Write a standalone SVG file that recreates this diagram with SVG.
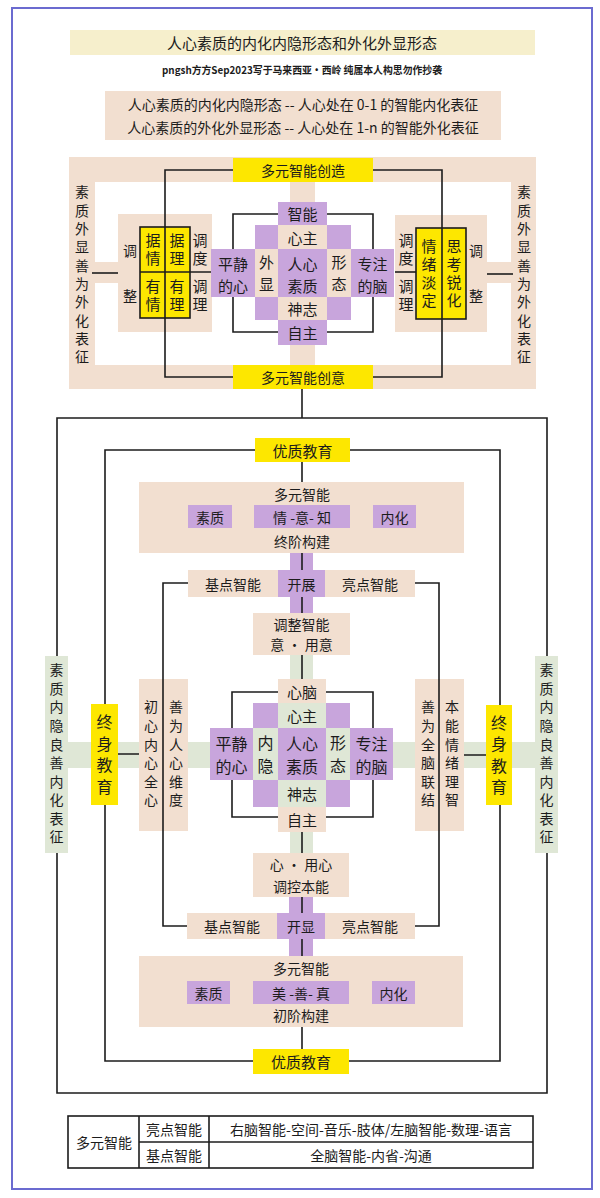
<svg xmlns="http://www.w3.org/2000/svg" width="600" height="1198" viewBox="0 0 600 1198">
<style>
.t{font-family:"Noto Sans CJK SC","Noto Sans",sans-serif;fill:#1c1c1c;text-anchor:middle;dominant-baseline:central}
.v{writing-mode:vertical-rl;text-orientation:upright}
.s10{font-size:10.5px}.s13{font-size:13px}.s14{font-size:14px}.s15{font-size:15px}.s16{font-size:16px}
.pe{fill:#f2dfd0}.pu{fill:#c8a5dc}.ye{fill:#fde700}.gr{fill:#dfe7d6}
.ln{fill:none;stroke:#1c1c1c;stroke-width:1.6}
</style>
<rect width="600" height="1198" fill="#ffffff"/>
<rect x="12" y="8" width="580" height="1181" fill="none" stroke="#6b6bd0" stroke-width="2"/>

<g id="header">
<rect x="70" y="30" width="465" height="25" fill="#f6efcc"/>
<text class="t s15" x="302" y="42.5">人心素质的内化内隐形态和外化外显形态</text>
<text class="t s10" x="302" y="69" font-weight="bold" textLength="280" lengthAdjust="spacingAndGlyphs">pngsh方方Sep2023写于马来西亚·西岭 纯属本人构思勿作抄袭</text>
<rect x="105" y="91" width="396" height="49" class="pe"/>
<text class="t s14" x="303" y="104">人心素质的内化内隐形态 -- 人心处在 0-1 的智能内化表征</text>
<text class="t s14" x="303" y="127">人心素质的外化外显形态 -- 人心处在 1-n 的智能外化表征</text>
</g>

<g id="upper-frame">
<rect x="69" y="157" width="467" height="232" class="pe"/>
<rect x="95" y="182" width="416" height="183" fill="#ffffff"/>
<rect x="290" y="182" width="25" height="183" class="pe"/>
<rect x="95" y="262" width="23" height="21" class="pe"/>
<rect x="487" y="262" width="24" height="21" class="pe"/>
</g>

<g id="upper-left-label">
<text class="t s14 v" x="82" y="276.7" letter-spacing="4.33">素质外显善为外化表征</text>
</g>
<g id="upper-right-label">
<text class="t s14 v" x="524" y="276.7" letter-spacing="4.33">素质外显善为外化表征</text>
</g>

<g id="create-top">
<rect x="233" y="158" width="140" height="24" class="ye"/>
<text class="t s14" x="303" y="170">多元智能创造</text>
</g>
<g id="create-bottom">
<rect x="233" y="365" width="140" height="24" class="ye"/>
<text class="t s14" x="303" y="377">多元智能创意</text>
</g>

<g id="upper-left-adjust">
<rect x="118" y="214" width="94" height="118" class="pe"/>
<text class="t s14" x="130" y="250">调</text>
<text class="t s14" x="130" y="295">整</text>
<rect x="140" y="227" width="50" height="91" class="ye" stroke="#1c1c1c" stroke-width="1.6"/>
<line class="ln" x1="140" y1="272" x2="212" y2="272"/>
<text class="t s15 v" x="153" y="250.5" letter-spacing="3">据情</text>
<text class="t s15 v" x="153" y="296.5" letter-spacing="3">有情</text>
<text class="t s15 v" x="177" y="250.5" letter-spacing="3">据理</text>
<text class="t s15 v" x="177" y="296.5" letter-spacing="3">有理</text>
<text class="t s15 v" x="200" y="250.5" letter-spacing="3">调度</text>
<text class="t s15 v" x="200" y="296.5" letter-spacing="3">调理</text>
</g>

<g id="upper-right-adjust">
<rect x="395" y="215" width="92" height="117" class="pe"/>
<text class="t s14" x="476" y="250">调</text>
<text class="t s14" x="476" y="295">整</text>
<rect x="416" y="228" width="50" height="91" class="ye" stroke="#1c1c1c" stroke-width="1.6"/>
<line class="ln" x1="395" y1="272" x2="416" y2="272"/>
<text class="t s15 v" x="406" y="250.5" letter-spacing="3">调度</text>
<text class="t s15 v" x="406" y="296.5" letter-spacing="3">调理</text>
<text class="t s15 v" x="429" y="275" letter-spacing="3">情绪淡定</text>
<text class="t s15 v" x="454" y="275" letter-spacing="3">思考锐化</text>
</g>

<g id="upper-core">
<rect x="278" y="202" width="49" height="23" class="pu"/>
<rect x="255" y="225" width="23" height="24" class="pu"/>
<rect x="278" y="225" width="49" height="24" class="pe"/>
<rect x="327" y="225" width="24" height="24" class="pu"/>
<rect x="211" y="249" width="44" height="48" class="pu"/>
<rect x="255" y="249" width="23" height="48" class="pe"/>
<rect x="278" y="249" width="49" height="48" class="pu"/>
<rect x="327" y="249" width="24" height="48" class="pe"/>
<rect x="351" y="249" width="43" height="48" class="pu"/>
<rect x="255" y="297" width="23" height="23" class="pu"/>
<rect x="278" y="297" width="49" height="23" class="pe"/>
<rect x="327" y="297" width="24" height="23" class="pu"/>
<rect x="278" y="320" width="49" height="25" class="pu"/>
<text class="t s15" x="302.5" y="213.5">智能</text>
<text class="t s15" x="302.5" y="237">心主</text>
<text class="t s15"><tspan x="233" y="262.5">平静</tspan><tspan x="233" y="284.5">的心</tspan></text>
<text class="t s15 v" x="266.5" y="276.5" letter-spacing="7">外显</text>
<text class="t s15"><tspan x="302.5" y="262.5">人心</tspan><tspan x="302.5" y="284.5">素质</tspan></text>
<text class="t s15 v" x="339" y="276.5" letter-spacing="7">形态</text>
<text class="t s15"><tspan x="372.5" y="262.5">专注</tspan><tspan x="372.5" y="284.5">的脑</tspan></text>
<text class="t s15" x="302.5" y="308.5">神志</text>
<text class="t s15" x="302.5" y="332.5">自主</text>
</g>

<g id="lower-strips">
<rect x="290" y="553" width="23" height="60" class="pu"/>
<rect x="290" y="655" width="23" height="198" class="gr"/>
<rect x="68" y="742" width="467" height="26" class="gr"/>
<rect x="289" y="897" width="24" height="59" class="pu"/>
</g>

<g id="quality-top">
<rect x="255" y="438" width="95" height="24" class="ye"/>
<text class="t s15" x="302.5" y="450">优质教育</text>
</g>

<g id="final-build">
<rect x="139" y="482" width="325" height="71" class="pe"/>
<text class="t s14" x="302" y="494">多元智能</text>
<text class="t s14" x="302" y="541">终阶构建</text>
<rect x="188" y="505" width="44" height="23" class="pu"/>
<text class="t s14" x="210" y="516.5">素质</text>
<rect x="254" y="505" width="96" height="23" class="pu"/>
<text class="t s14" x="302" y="516.5">情 -意- 知</text>
<rect x="373" y="505" width="43" height="23" class="pu"/>
<text class="t s14" x="394.5" y="516.5">内化</text>
</g>

<g id="unfold-row">
<rect x="188" y="570" width="90" height="27" class="pe"/>
<text class="t s14" x="233" y="583.5">基点智能</text>
<rect x="278" y="570" width="47" height="27" class="pu"/>
<text class="t s14" x="301.5" y="583.5">开展</text>
<rect x="325" y="570" width="90" height="27" class="pe"/>
<text class="t s14" x="370" y="583.5">亮点智能</text>
</g>

<g id="adjust-intel">
<rect x="253" y="613" width="97" height="42" class="pe"/>
<text class="t s14" x="301.5" y="624">调整智能</text>
<text class="t s14" x="301.5" y="644">意 · 用意</text>
</g>

<g id="lower-core">
<rect x="278" y="679" width="48" height="24" class="pe"/>
<rect x="253" y="703" width="25" height="25" class="pu"/>
<rect x="278" y="703" width="48" height="25" class="gr"/>
<rect x="326" y="703" width="24" height="25" class="pu"/>
<rect x="210" y="728" width="43" height="52" class="pu"/>
<rect x="253" y="728" width="25" height="52" class="gr"/>
<rect x="278" y="728" width="48" height="52" class="pu"/>
<rect x="326" y="728" width="24" height="52" class="gr"/>
<rect x="350" y="728" width="43" height="52" class="pu"/>
<rect x="253" y="780" width="25" height="27" class="pu"/>
<rect x="278" y="780" width="48" height="27" class="gr"/>
<rect x="326" y="780" width="24" height="27" class="pu"/>
<rect x="278" y="807" width="48" height="25" class="pe"/>
<text class="t s15" x="302" y="691">心脑</text>
<text class="t s15" x="302" y="715.5">心主</text>
<text class="t s16"><tspan x="231.5" y="742.5">平静</tspan><tspan x="231.5" y="766">的心</tspan></text>
<text class="t s16 v" x="265.5" y="758" letter-spacing="7.5">内隐</text>
<text class="t s16"><tspan x="302" y="742.5">人心</tspan><tspan x="302" y="766">素质</tspan></text>
<text class="t s16 v" x="338" y="758" letter-spacing="7.5">形态</text>
<text class="t s16"><tspan x="371.5" y="742.5">专注</tspan><tspan x="371.5" y="766">的脑</tspan></text>
<text class="t s15" x="302" y="793.5">神志</text>
<text class="t s15" x="302" y="819.5">自主</text>
</g>

<g id="left-inner-label">
<rect x="139" y="679" width="49" height="152" class="pe"/>
<text class="t s14 v" x="151" y="755.8" letter-spacing="4.6">初心内心全心</text>
<text class="t s14 v" x="176" y="755.8" letter-spacing="4.6">善为人心维度</text>
</g>
<g id="right-inner-label">
<rect x="415" y="679" width="49" height="152" class="pe"/>
<text class="t s14 v" x="428" y="755.8" letter-spacing="4.6">善为全脑联结</text>
<text class="t s14 v" x="452" y="755.8" letter-spacing="4.6">本能情绪理智</text>
</g>

<g id="lifelong-left">
<rect x="91" y="704" width="27" height="101" class="ye"/>
<text class="t s16 v" x="104.5" y="757" letter-spacing="5.5">终身教育</text>
</g>
<g id="lifelong-right">
<rect x="486" y="705" width="26" height="100" class="ye"/>
<text class="t s16 v" x="499" y="757.5" letter-spacing="5.5">终身教育</text>
</g>

<g id="lower-left-label">
<rect x="45" y="656" width="23" height="197" class="gr"/>
<text class="t s14 v" x="56.5" y="755.8" letter-spacing="4.56">素质内隐良善内化表征</text>
</g>
<g id="lower-right-label">
<rect x="535" y="656" width="23" height="197" class="gr"/>
<text class="t s14 v" x="546.5" y="755.8" letter-spacing="4.56">素质内隐良善内化表征</text>
</g>

<g id="use-heart">
<rect x="253" y="853" width="96" height="44" class="pe"/>
<text class="t s14" x="301" y="864">心 · 用心</text>
<text class="t s14" x="301" y="886">调控本能</text>
</g>

<g id="reveal-row">
<rect x="187" y="913" width="90" height="26" class="pe"/>
<text class="t s14" x="232" y="926">基点智能</text>
<rect x="277" y="913" width="48" height="26" class="pu"/>
<text class="t s14" x="301" y="926">开显</text>
<rect x="325" y="913" width="90" height="26" class="pe"/>
<text class="t s14" x="370" y="926">亮点智能</text>
</g>

<g id="initial-build">
<rect x="139" y="956" width="324" height="71" class="pe"/>
<text class="t s14" x="301" y="968">多元智能</text>
<text class="t s14" x="301" y="1015">初阶构建</text>
<rect x="187" y="981" width="43" height="23" class="pu"/>
<text class="t s14" x="208.5" y="992.5">素质</text>
<rect x="253" y="981" width="96" height="23" class="pu"/>
<text class="t s14" x="301" y="992.5">美 -善- 真</text>
<rect x="372" y="981" width="43" height="23" class="pu"/>
<text class="t s14" x="393.5" y="992.5">内化</text>
</g>

<g id="quality-bottom">
<rect x="253" y="1049" width="96" height="25" class="ye"/>
<text class="t s15" x="301" y="1061.5">优质教育</text>
</g>

<g id="connectors" class="ln" stroke-width="2">
<path d="M233,170 H165 V377 H233"/>
<path d="M373,170 H442 V377 H373"/>
<path d="M278,214 H233 V249 M233,297 V332 H278"/>
<path d="M327,214 H373 V249 M373,297 V332 H327"/>
<path d="M92,273 H118"/>
<path d="M487,274 H513"/>
<path d="M302,389 V418"/>
<path d="M57,656 V418 H547 V656 M547,853 V1093 H57 V853"/>
<path d="M255,450 H105 V704 M105,805 V1061 H253 M349,1061 H500 V805 M500,705 V450 H350"/>
<path d="M188,583 H163 V926 H187 M415,583 H439 V926 H415"/>
<path d="M118,754 H139 M464,755 H486"/>
<path d="M278,692 H232 V728 M232,780 V817 H278"/>
<path d="M326,692 H373 V728 M373,780 V817 H326"/>
<path d="M302,462 V482 M302,553 V570 M302,597 V613 M302,655 V679 M302,832 V853 M302,897 V913 M302,939 V956 M302,1027 V1049"/>
</g>

<g id="legend-table">
<rect x="68" y="1116" width="465" height="52" fill="#ffffff" stroke="#1c1c1c" stroke-width="1.6"/>
<line class="ln" x1="139" y1="1116" x2="139" y2="1168"/>
<line class="ln" x1="209" y1="1116" x2="209" y2="1168"/>
<line class="ln" x1="139" y1="1142" x2="533" y2="1142"/>
<text class="t s14" x="104" y="1142">多元智能</text>
<text class="t s14" x="174" y="1129">亮点智能</text>
<text class="t s14" x="174" y="1155">基点智能</text>
<text class="t s14" x="371" y="1129">右脑智能-空间-音乐-肢体/左脑智能-数理-语言</text>
<text class="t s14" x="371" y="1155">全脑智能-内省-沟通</text>
</g>
</svg>
